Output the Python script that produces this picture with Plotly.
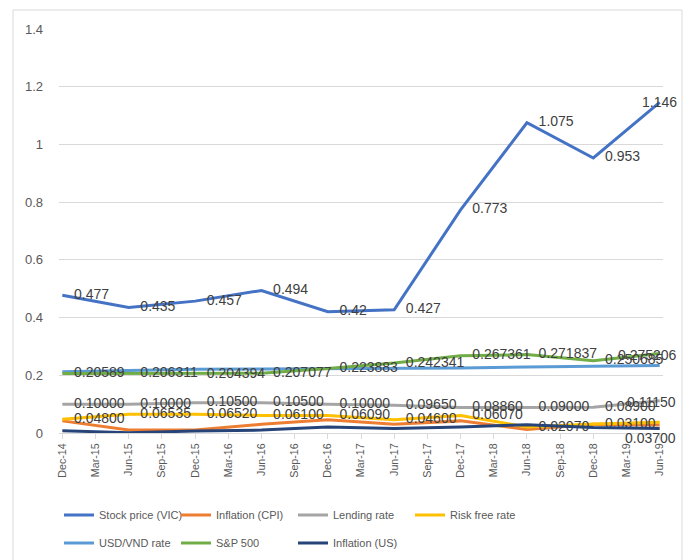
import plotly.graph_objects as go

# ---------------- data ----------------
categories = ["Dec-14", "Mar-15", "Jun-15", "Sep-15", "Dec-15", "Mar-16", "Jun-16",
              "Sep-16", "Dec-16", "Mar-17", "Jun-17", "Sep-17", "Dec-17", "Mar-18",
              "Jun-18", "Sep-18", "Dec-18", "Mar-19", "Jun-19"]
# observations are half-yearly (Dec / Jun)
obs_dates = categories[0::2]

stock_vic = [0.477, 0.435, 0.457, 0.494, 0.42, 0.427, 0.773, 1.075, 0.953, 1.146]
inflation_cpi = [0.042, 0.010, 0.010, 0.030, 0.046, 0.030, 0.042, 0.012, 0.030, 0.028]
lending_rate = [0.10000, 0.10000, 0.10500, 0.10500, 0.10000, 0.09650, 0.08860, 0.09000, 0.08900, 0.11150]
risk_free = [0.04800, 0.06535, 0.06520, 0.06100, 0.06090, 0.04600, 0.06070, 0.02070, 0.03100, 0.03700]
usd_vnd = [0.2125, 0.2165, 0.2205, 0.2215, 0.2225, 0.2235, 0.2250, 0.2285, 0.2320, 0.2335]
sp500 = [0.20589, 0.206311, 0.204394, 0.207077, 0.223883, 0.242341, 0.267361, 0.271837, 0.250685, 0.275206]
inflation_us = [0.008, 0.001, 0.007, 0.010, 0.021, 0.016, 0.021, 0.029, 0.019, 0.016]

y_ticks = [0, 0.2, 0.4, 0.6, 0.8, 1.0, 1.2, 1.4]

# ---------------- style ----------------
W, H = 695, 560
ML, MR, MT, MB = 59, 32, 29, 127
PW, PH = W - ML - MR, H - MT - MB
FONT = "Liberation Sans"
LABEL_COLOR = "#404040"
AXIS_COLOR = "#595959"
GRID = "#D9D9D9"
NB = "\u00a0"


def px_x(p):
    return (p - ML) / PW


def px_y(p):
    return (H - MB - p) / PH


series = [
    # name, values, colour, label strings, last-label shift (x, y), legend
    ("Stock price (VIC)", stock_vic, "#4472C4", [str(v) for v in stock_vic], (0, 0), "legend"),
    ("Inflation (CPI)", inflation_cpi, "#ED7D31", None, None, "legend"),
    ("Lending rate", lending_rate, "#A5A5A5", [f"{v:.5f}" for v in lending_rate], (-8, -1), "legend"),
    ("Risk free rate", risk_free, "#FFC000", [f"{v:.5f}" for v in risk_free], (-9, -16), "legend"),
    ("USD/VND rate", usd_vnd, "#5B9BD5", None, None, "legend2"),
    ("S&P 500", sp500, "#70AD47", [str(v) for v in sp500], (-12, -1), "legend2"),
    ("Inflation (US)", inflation_us, "#264478", None, None, "legend2"),
]

fig = go.Figure()
annotations = []
for name, vals, color, labels, shift, leg in series:
    fig.add_trace(go.Scatter(
        x=obs_dates, y=vals, name=name, mode="lines",
        line=dict(color=color, width=3), legend=leg, cliponaxis=False,
    ))
    if labels is not None:
        # all but the last label sit to the right of their point
        fig.add_trace(go.Scatter(
            x=obs_dates[:-1], y=vals[:-1], name=name, mode="text", showlegend=False,
            text=[NB * 3 + s for s in labels[:-1]], textposition="middle right",
            textfont=dict(family=FONT, size=14, color=LABEL_COLOR),
            cliponaxis=False, hoverinfo="skip",
        ))
        # last label is pulled back inside the chart area
        annotations.append(dict(
            x=obs_dates[-1], y=vals[-1], xref="x", yref="y", text=labels[-1],
            showarrow=False, xanchor="center", yanchor="middle",
            xshift=shift[0], yshift=shift[1],
            font=dict(family=FONT, size=14, color=LABEL_COLOR),
        ))

legend_common = dict(
    orientation="h", xref="container", yref="container", xanchor="left", yanchor="middle",
    entrywidth=72, entrywidthmode="pixels", itemwidth=30,
    font=dict(family=FONT, size=11, color=AXIS_COLOR), bgcolor="rgba(0,0,0,0)",
    traceorder="normal",
)

fig.update_layout(
    width=W, height=H,
    margin=dict(l=ML, r=MR, t=MT, b=MB, autoexpand=False),
    paper_bgcolor="white", plot_bgcolor="white",
    font=dict(family=FONT, color=AXIS_COLOR),
    xaxis=dict(
        type="category", categoryorder="array", categoryarray=categories,
        range=[-0.1, len(categories) - 0.9],
        tickangle=-90, tickfont=dict(family=FONT, size=10.7, color=AXIS_COLOR),
        showgrid=False, showline=True, linecolor=GRID, linewidth=1,
        ticks="outside", ticklen=5, tickcolor=GRID, zeroline=False,
    ),
    yaxis=dict(
        range=[0, 1.4], tickvals=y_ticks, ticktext=[f"{v:g}" for v in y_ticks],
        showgrid=True, gridcolor=GRID, gridwidth=1, zeroline=False, showline=False,
        tickfont=dict(family=FONT, size=13, color=AXIS_COLOR), ticklabelstandoff=15,
    ),
    legend=dict(legend_common, x=59 / W, y=1 - 515 / H),
    legend2=dict(legend_common, x=59 / W, y=1 - 543 / H),
    annotations=annotations,
    shapes=[dict(
        type="rect", xref="paper", yref="paper",
        x0=px_x(13), x1=px_x(682), y0=px_y(568), y1=px_y(10),
        line=dict(color=GRID, width=1), fillcolor="rgba(0,0,0,0)", layer="below",
    )],
    showlegend=True,
)

fig.write_html("out.html", config={"displayModeBar": False},
               post_script="document.body.style.margin='0';")
